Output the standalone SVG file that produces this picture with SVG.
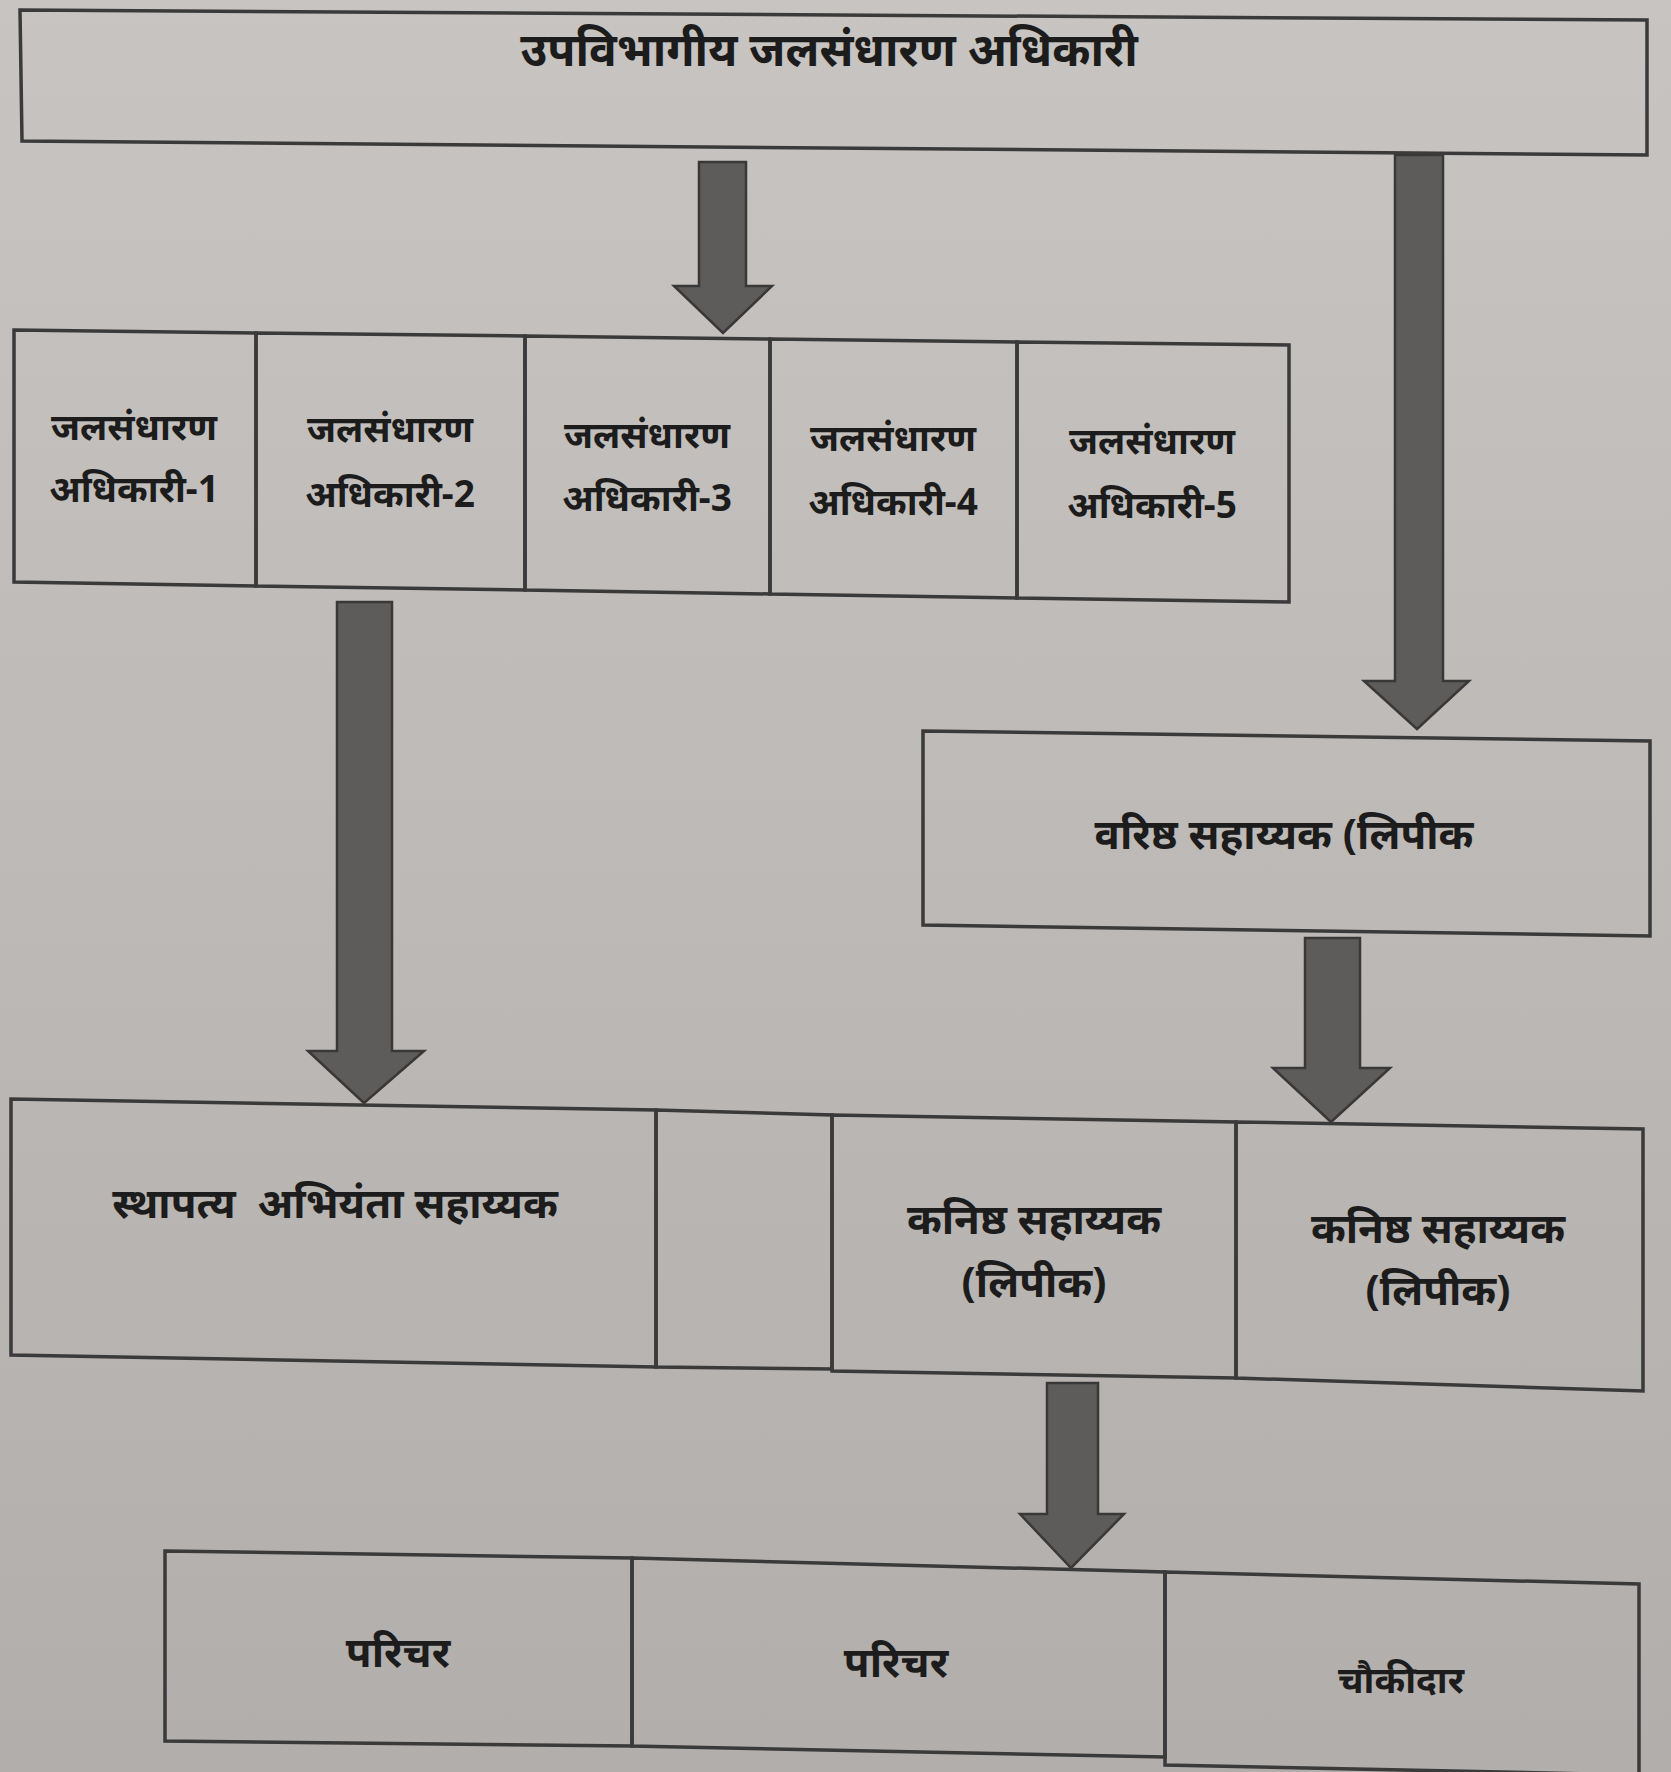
<svg xmlns="http://www.w3.org/2000/svg" width="1671" height="1772" viewBox="0 0 1671 1772">
<defs>
<linearGradient id="bg" x1="0" y1="0" x2="0" y2="1">
<stop offset="0" stop-color="#c7c4c1"/>
<stop offset="1" stop-color="#b2aeab"/>
</linearGradient>
</defs>
<style>
.box{fill:none;stroke:#3a3a3a;stroke-width:3.5;stroke-linejoin:miter}
.arr{fill:#5e5c5b;stroke:#393838;stroke-width:2.5}
.t{font-family:"Noto Sans","Liberation Sans",sans-serif;font-weight:bold;fill:#1c1c1c;text-anchor:middle}
.tl{font-size:46px}
.tm{font-size:37px}
.tb{font-size:42px}
</style>
<rect x="0" y="0" width="1671" height="1772" fill="url(#bg)"/>
<g id="connectors">
<polygon class="arr" points="699,162 746,162 746,286 772,286 723,333 674,286 699,286"/>
<polygon class="arr" points="1395,155 1443,155 1443,681 1469,681 1417,729 1364,681 1395,681"/>
<polygon class="arr" points="337,602 392,602 392,1051 424,1051 364,1103 308,1051 337,1051"/>
<polygon class="arr" points="1305,938 1360,938 1360,1068 1390,1068 1331,1122 1273,1068 1305,1068"/>
<polygon class="arr" points="1047,1383 1098,1383 1098,1514 1124,1514 1071,1568 1020,1514 1047,1514"/>
</g>
<g id="n-top">
<polygon class="box" points="20,10 1647,20 1647,155 22,141"/>
<text class="t tl" x="829" y="66">उपविभागीय जलसंधारण अधिकारी</text>
</g>
<g id="n-j1">
<polygon class="box" points="14,330 256,333 256,586 14,582"/>
<text class="t tm" x="134" y="440">जलसंधारण</text>
<text class="t tm" x="134" y="502">अधिकारी-1</text>
</g>
<g id="n-j2">
<polygon class="box" points="256,333 525,336 525,590 256,586"/>
<text class="t tm" x="390" y="442">जलसंधारण</text>
<text class="t tm" x="390" y="507">अधिकारी-2</text>
</g>
<g id="n-j3">
<polygon class="box" points="525,336 770,339 770,594 525,590"/>
<text class="t tm" x="647" y="448">जलसंधारण</text>
<text class="t tm" x="647" y="511">अधिकारी-3</text>
</g>
<g id="n-j4">
<polygon class="box" points="770,339 1017,342 1017,598 770,594"/>
<text class="t tm" x="893" y="451">जलसंधारण</text>
<text class="t tm" x="893" y="515">अधिकारी-4</text>
</g>
<g id="n-j5">
<polygon class="box" points="1017,342 1289,345 1289,602 1017,598"/>
<text class="t tm" x="1152" y="454">जलसंधारण</text>
<text class="t tm" x="1152" y="518">अधिकारी-5</text>
</g>
<g id="n-senior">
<polygon class="box" points="923,731 1650,741 1650,936 923,925"/>
<text class="t tb" x="1284" y="849">वरिष्ठ सहाय्यक (लिपीक</text>
</g>
<g id="n-arch">
<polygon class="box" points="11,1099 656,1110 656,1367 11,1355"/>
<text class="t tb" x="335" y="1218">स्थापत्य&#160; अभियंता सहाय्यक</text>
</g>
<g id="n-empty">
<polygon class="box" points="656,1110 832,1115 832,1369 656,1367"/>
</g>
<g id="n-jr1">
<polygon class="box" points="832,1115 1236,1122 1236,1378 832,1371"/>
<text class="t tb" x="1034" y="1234">कनिष्ठ सहाय्यक</text>
<text class="t tb" x="1034" y="1297">(लिपीक)</text>
</g>
<g id="n-jr2">
<polygon class="box" points="1236,1122 1643,1129 1643,1391 1236,1378"/>
<text class="t tb" x="1438" y="1243">कनिष्ठ सहाय्यक</text>
<text class="t tb" x="1438" y="1305">(लिपीक)</text>
</g>
<g id="n-p1">
<polygon class="box" points="165,1551 632,1558 632,1746 165,1741"/>
<text class="t tb" x="398" y="1667">परिचर</text>
</g>
<g id="n-p2">
<polygon class="box" points="632,1558 1165,1572 1165,1757 632,1746"/>
<text class="t tb" x="896" y="1677">परिचर</text>
</g>
<g id="n-ch">
<polygon class="box" points="1165,1572 1639,1584 1639,1775 1165,1765"/>
<text class="t tm" x="1401" y="1693">चौकीदार</text>
</g>
</svg>
